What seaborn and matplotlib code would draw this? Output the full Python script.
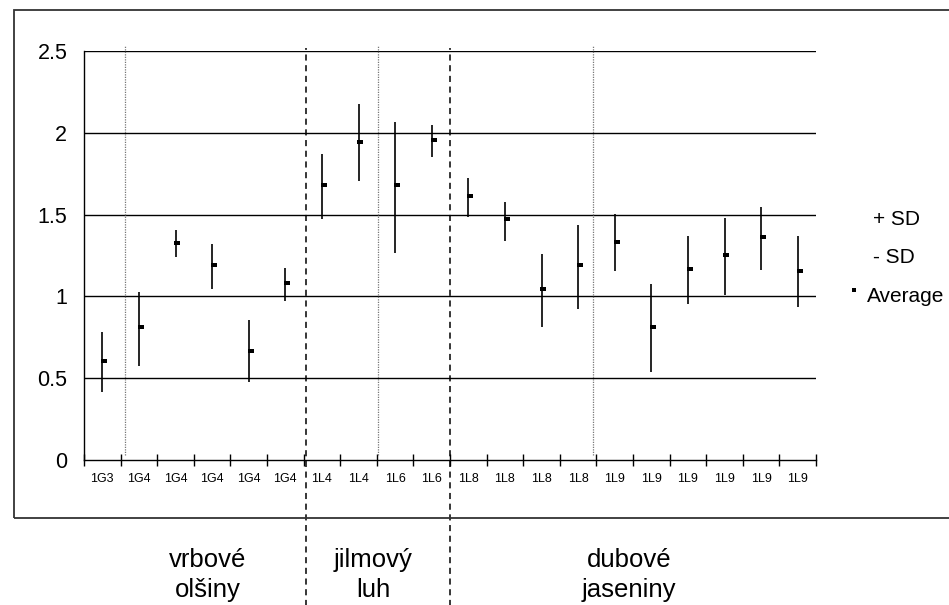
import numpy as np
import pandas as pd
import matplotlib
matplotlib.use("Agg")
import matplotlib.pyplot as plt
import seaborn as sns
from matplotlib.patches import Rectangle

sns.set_theme(style="white")
plt.rcParams['font.family'] = ['Liberation Sans', 'DejaVu Sans']
plt.rcParams['text.color'] = 'black'
plt.rcParams['xtick.color'] = 'black'
plt.rcParams['ytick.color'] = 'black'

# ---- data ----
categories = ["1G3", "1G4", "1G4", "1G4", "1G4", "1G4", "1L4", "1L4", "1L6", "1L6",
              "1L8", "1L8", "1L8", "1L8", "1L9", "1L9", "1L9", "1L9", "1L9", "1L9"]
average = [0.606, 0.812, 1.324, 1.190, 0.667, 1.082, 1.678, 1.945, 1.678, 1.957,
           1.615, 1.473, 1.044, 1.190, 1.334, 0.812, 1.168, 1.251, 1.363, 1.153]
plus_sd = [0.783, 1.027, 1.406, 1.318, 0.856, 1.174, 1.869, 2.175, 2.065, 2.048,
           1.721, 1.577, 1.259, 1.438, 1.501, 1.076, 1.369, 1.479, 1.548, 1.369]
minus_sd = [0.413, 0.572, 1.243, 1.046, 0.476, 0.974, 1.475, 1.705, 1.267, 1.853,
            1.487, 1.341, 0.816, 0.924, 1.157, 0.535, 0.952, 1.011, 1.159, 0.938]
y_ticks = [0, 0.5, 1, 1.5, 2, 2.5]
y_tick_labels = ["0", "0.5", "1", "1.5", "2", "2.5"]
group_lines_1 = ["vrbové", "jilmový", "dubové"]
group_lines_2 = ["olšiny", "luh", "jaseniny"]
legend_labels = ["+ SD", "- SD", "Average"]

df = pd.DataFrame({"pos": np.arange(len(categories)), "cat": categories,
                   "avg": average, "hi": plus_sd, "lo": minus_sd})

W, H = 949, 605
fig = plt.figure(figsize=(W/100, H/100), dpi=100)
ax = fig.add_axes([84/W, 1-460/H, (816-84)/W, (460-51)/H])

# outer border
fig.patches.append(Rectangle((14/W, 1-518/H), 1.0, (518-10)/H,
                             transform=fig.transFigure, fill=False,
                             edgecolor="#333333", linewidth=1.3, zorder=0))

# grid lines
for yv in y_ticks[1:]:
    ax.axhline(yv, color="black", linewidth=1.0, zorder=1)

# SD lines
ax.vlines(df["pos"], df["lo"], df["hi"], color="black", linewidth=1.2, zorder=3)
# averages (small horizontal dash)
dash = [(-1, -0.55), (1, -0.55), (1, 0.55), (-1, 0.55), (-1, -0.55)]
sns.scatterplot(data=df.assign(px=df["pos"] + 0.05), x="px", y="avg", marker=dash,
                color="black", s=17, linewidth=0, ax=ax, zorder=4, legend=False)

ax.set_xlim(-0.5, len(categories) - 0.5)
ax.set_ylim(0, 2.5)

# separators
for b in [0.62, 7.54, 13.42]:
    ax.vlines(b, 0.03, 2.537, color="#777777", linewidth=0.9, linestyles=(0, (1, 1)),
              clip_on=False, zorder=2)
for b in [5.56, 9.5]:
    ax.vlines(b, -0.9, 2.518, color="black", linewidth=1.1, linestyles=(0, (4, 3)),
              clip_on=False, zorder=2)

# axes styling
for s in ["top", "right"]:
    ax.spines[s].set_visible(False)
ax.spines["left"].set_color("black")
ax.spines["bottom"].set_color("black")
ax.spines["left"].set_linewidth(1.0)
ax.spines["bottom"].set_linewidth(1.0)
ax.set_yticks(y_ticks)
ax.set_yticklabels(y_tick_labels, fontsize=15.5)
ax.tick_params(axis="y", direction="out", length=6, width=1, color="black", pad=6)
ax.set_xticks(df["pos"])
ax.set_xticklabels(categories, fontsize=9)
ax.tick_params(axis="x", which="major", length=0, pad=9)
ax.set_xticks(np.arange(-0.5, len(categories)), minor=True)
ax.tick_params(axis="x", which="minor", direction="inout", length=8, width=1,
               color="black", bottom=True)
ax.set_xlabel("")
ax.set_ylabel("")

# group labels
for xg, l1, l2 in zip([207.5, 373, 629], group_lines_1, group_lines_2):
    fig.text(xg/W, 1-567/H, l1, ha="center", va="baseline", fontsize=18.5)
    fig.text(xg/W, 1-597/H, l2, ha="center", va="baseline", fontsize=18.5)

# legend texts
fig.text(873/W, 1-225/H, legend_labels[0], fontsize=15, va="baseline", ha="left")
fig.text(873/W, 1-263/H, legend_labels[1], fontsize=15, va="baseline", ha="left")
fig.text(866.5/W, 1-301.5/H, legend_labels[2], fontsize=15, va="baseline", ha="left")
fig.patches.append(Rectangle((851.5/W, 1-292/H), 4/W, 4/H, transform=fig.transFigure,
                             facecolor="black", edgecolor="none"))

fig.savefig("out.png", dpi=100)
